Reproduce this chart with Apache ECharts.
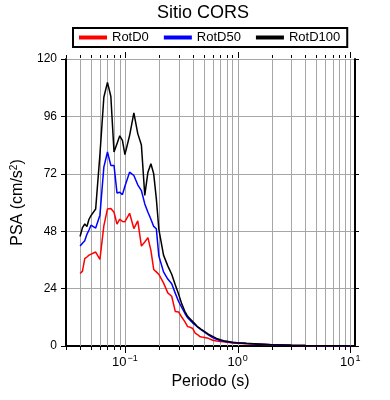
<!DOCTYPE html>
<html>
<head>
<meta charset="utf-8">
<script src="https://cdn.jsdelivr.net/npm/echarts@6/dist/echarts.min.js"></script>
<style>
  html, body { margin: 0; padding: 0; background: #fff; }
  #chart { width: 390px; height: 400px; }
</style>
</head>
<body>
<div id="chart"></div>
<script>
// periodos (s)
var periods = [0.04, 0.042, 0.044, 0.046, 0.048, 0.05, 0.055, 0.06, 0.065, 0.07, 0.075, 0.08, 0.085, 0.09, 0.095,
  0.1, 0.11, 0.12, 0.13, 0.14, 0.15, 0.16, 0.17, 0.18, 0.19, 0.2, 0.22, 0.24, 0.26, 0.28, 0.3, 0.32, 0.34, 0.36, 0.38,
  0.4, 0.42, 0.44, 0.46, 0.48, 0.5, 0.55, 0.6, 0.65, 0.7, 0.75, 0.8, 0.85, 0.9, 0.95, 1.0, 1.2, 1.5, 2, 3, 4, 5, 7.5, 10];

// PSA (cm/s2)
var rotD0 = [30.3, 31.3, 36.5, 37.2, 38, 38.3, 39.3, 36.2, 50.2, 57.3, 57.5, 55.9, 51, 53, 52.1,
  52, 55.5, 49.1, 52.3, 41.8, 43.5, 45.3, 40, 32, 31, 29.9, 26.4, 22.2, 20.8, 14.4, 14.2, 12, 10.2, 8.1, 7.8,
  7.3, 5.4, 4.8, 4.0, 3.8, 3.7, 3.2, 2.4, 2.1, 1.9, 1.8, 1.6, 1.5, 1.3, 1.2, 1.1, 0.9, 0.7, 0.5, 0.3, 0.2, 0.15, 0.1, 0.05];
var rotD50 = [41.8, 43, 44, 46.7, 48.5, 50.5, 49.3, 54.7, 74.8, 81.1, 75.5, 75.5, 64, 64.3, 63.3,
  66.8, 72.7, 71.3, 67.4, 65, 59.4, 55.9, 53, 50, 49, 37.6, 31, 28, 26, 22, 18.5, 16, 13.7, 11.8, 10.7,
  9.6, 8.8, 8, 7.3, 6.6, 5.8, 4.7, 3.5, 2.8, 2.3, 2, 1.8, 1.6, 1.5, 1.4, 1.3, 1.0, 0.8, 0.5, 0.3, 0.2, 0.15, 0.1, 0.05];
var rotD100 = [45.8, 49.5, 51, 50, 53, 54.5, 57.3, 80, 104, 110.2, 104.3, 81.1, 84.6, 87.9, 86,
  80, 88, 97.5, 88.8, 84, 63, 72.7, 76.2, 72, 61.5, 48.8, 38, 33.5, 30, 25.5, 21.5, 17.5, 14.5, 12.4, 11.3,
  10.2, 9.2, 8.1, 7.5, 6.8, 6.3, 5, 4, 3.2, 2.6, 2.2, 2, 1.8, 1.6, 1.5, 1.4, 1.1, 0.85, 0.55, 0.3, 0.2, 0.15, 0.1, 0.05];

var seriesNames = ['RotD0', 'RotD50', 'RotD100'];
var seriesColors = ['#ff0000', '#0000ff', '#000000'];

// marcas del eje log (2..9 por decada)
var logTicks = [0.03, 0.04, 0.05, 0.06, 0.07, 0.08, 0.09, 0.1, 0.2, 0.3, 0.4, 0.5, 0.6, 0.7, 0.8, 0.9,
  1, 2, 3, 4, 5, 6, 7, 8, 9, 10];

var yTicks = [0, 24, 48, 72, 96, 120];
var xMin = 0.03, xMax = 11;

var font = 'Liberation Sans, Arial, sans-serif';

function isDecade(v) {
  var l = Math.log10(v);
  return Math.abs(l - Math.round(l)) < 1e-6;
}

function pairs(ys) {
  return periods.map(function (t, i) { return [t, ys[i]]; });
}

// rejilla vertical y marcas menores
function renderGrid(params, api) {
  var v = api.value(0);
  var top = api.coord([v, yTicks[yTicks.length - 1]]);
  var bot = api.coord([v, yTicks[0]]);
  var x = Math.round(top[0]) + 0.5;
  var len = isDecade(v) ? 6 : 3;
  var kids = [
    { type: 'line', shape: { x1: x, y1: bot[1] + 1, x2: x, y2: bot[1] + 1 + len }, style: { stroke: '#000', lineWidth: 1 } },
    { type: 'line', shape: { x1: x, y1: top[1] - 1, x2: x, y2: top[1] - 1 - len }, style: { stroke: '#000', lineWidth: 1 } }
  ];
  if (v > xMin) {
    kids.unshift({ type: 'line', shape: { x1: x, y1: top[1], x2: x, y2: bot[1] }, style: { stroke: '#a6a6a6', lineWidth: 1 } });
  }
  return { type: 'group', children: kids };
}

var chart = echarts.init(document.getElementById('chart'));

var lineSeries = seriesNames.map(function (name, i) {
  return {
    name: name,
    type: 'line',
    data: pairs([rotD0, rotD50, rotD100][i]),
    symbol: 'none',
    z: 3,
    lineStyle: { color: seriesColors[i], width: 1.5 },
    itemStyle: { color: seriesColors[i] }
  };
});

chart.setOption({
  animation: false,
  backgroundColor: '#fff',
  textStyle: { fontFamily: font },
  title: {
    text: 'Sitio CORS',
    left: 157,
    top: 4,
    padding: 0,
    textStyle: { fontSize: 18, fontWeight: 'normal', color: '#000', fontFamily: font }
  },
  legend: {
    data: seriesNames,
    left: 73,
    top: 28,
    padding: [3, 7, 3, 6],
    borderColor: '#000',
    borderWidth: 2,
    borderRadius: 0,
    icon: 'rect',
    itemWidth: 28,
    itemHeight: 4,
    itemGap: 15,
    textStyle: { fontSize: 13, color: '#000', fontFamily: font }
  },
  grid: { left: 66, top: 59, width: 289, height: 287, containLabel: false },
  xAxis: [{
    type: 'log',
    min: xMin,
    max: xMax,
    position: 'bottom',
    name: 'Periodo (s)',
    nameLocation: 'middle',
    nameGap: 28,
    nameTextStyle: { fontSize: 16, color: '#000', fontFamily: font },
    axisLine: { lineStyle: { color: '#000', width: 2 } },
    axisTick: { show: false },
    splitLine: { show: false },
    axisLabel: {
      margin: 8,
      showMinLabel: false,
      showMaxLabel: false,
      formatter: function (v) {
        if (!isDecade(v)) return '';
        var e = Math.round(Math.log10(v));
        return '{b|10}{s|' + (e < 0 ? '\u2212' + (-e) : e) + '}';
      },
      rich: {
        b: { fontSize: 13, color: '#000', fontFamily: font },
        s: { fontSize: 9, color: '#000', fontFamily: font, padding: [0, 0, 8, 1] }
      }
    }
  }, {
    type: 'log',
    min: xMin,
    max: xMax,
    position: 'top',
    axisLine: { lineStyle: { color: '#000', width: 2 } },
    axisTick: { show: false },
    axisLabel: { show: false },
    splitLine: { show: false }
  }],
  yAxis: [{
    type: 'value',
    min: yTicks[0],
    max: yTicks[yTicks.length - 1],
    interval: yTicks[1] - yTicks[0],
    position: 'left',
    name: 'PSA (cm/s{s|2})',
    nameLocation: 'middle',
    nameGap: 27,
    nameTextStyle: {
      fontSize: 16, color: '#000', fontFamily: font,
      rich: { s: { fontSize: 10, color: '#000', fontFamily: font, padding: [0, 0, 8, 0] } }
    },
    axisLine: { show: true, lineStyle: { color: '#000', width: 2 } },
    axisTick: { show: true, length: 5, lineStyle: { color: '#000' } },
    axisLabel: { margin: 9, fontSize: 12, color: '#000', fontFamily: font },
    splitLine: { show: true, lineStyle: { color: '#a6a6a6', width: 1 } }
  }, {
    type: 'value',
    min: yTicks[0],
    max: yTicks[yTicks.length - 1],
    interval: yTicks[1] - yTicks[0],
    position: 'right',
    axisLine: { show: true, lineStyle: { color: '#000', width: 2 } },
    axisTick: { show: true, length: 4, lineStyle: { color: '#000' } },
    axisLabel: { show: false },
    splitLine: { show: false }
  }],
  series: [{
    type: 'custom',
    silent: true,
    clip: false,
    z: 1,
    renderItem: renderGrid,
    data: logTicks.map(function (t) { return [t, 0]; })
  }].concat(lineSeries)
});
</script>
</body>
</html>
